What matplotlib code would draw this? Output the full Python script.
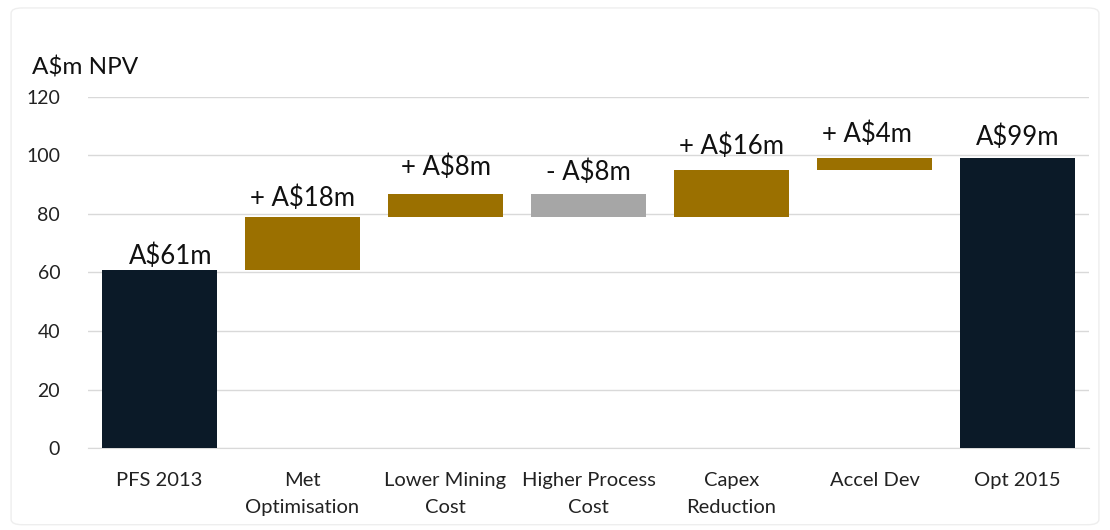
import matplotlib
matplotlib.use("Agg")
import matplotlib.pyplot as plt
from matplotlib.patches import FancyBboxPatch
import numpy as np

categories = ["PFS 2013", "Met\nOptimisation", "Lower Mining\nCost", "Higher Process\nCost",
              "Capex\nReduction", "Accel Dev", "Opt 2015"]
changes = [61, 18, 8, -8, 16, 4, 99]
labels = ["A$61m", "+ A$18m", "+ A$8m", "- A$8m", "+ A$16m", "+ A$4m", "A$99m"]
kinds = ["total", "delta", "delta", "delta", "delta", "delta", "total"]

NAVY = "#0b1a28"
GOLD = "#9b7000"
GREY = "#a6a6a6"

plt.rcParams['font.family'] = ['Lato', 'DejaVu Sans']

fig = plt.figure(figsize=(11.1, 5.3), dpi=100)
ax = fig.add_axes([0.0793, 0.1547, 0.9018, 0.6623])

bottoms, heights, colors = [], [], []
running = 0
for v, k in zip(changes, kinds):
    if k == "total":
        bottoms.append(0); heights.append(v); colors.append(NAVY); running = v
    else:
        if v >= 0:
            bottoms.append(running); heights.append(v); colors.append(GOLD)
        else:
            bottoms.append(running + v); heights.append(-v); colors.append(GREY)
        running += v

x = np.arange(len(categories))
ax.bar(x, heights, bottom=bottoms, width=0.8, color=colors, zorder=3)

# label offsets (points) above bar tops, and small horizontal nudges (data units)
offs = [0.5, 4, 10, 6, 8, 8, 6]
dxs = [0.08, 0, 0, 0, 0, -0.05, 0]
for i, (b, h, lab) in enumerate(zip(bottoms, heights, labels)):
    ax.annotate(lab, (x[i] + dxs[i], b + h), xytext=(0, offs[i]), textcoords="offset points",
                ha="center", va="bottom", fontsize=18.5, color="#111111")

ax.set_xlim(-0.5, len(categories) - 0.5)
ax.set_ylim(0, 120)
ax.set_yticks(range(0, 121, 20))
ax.yaxis.grid(True, color="#d9d9d9", linewidth=1, zorder=0)
ax.set_axisbelow(True)
for s in ["top", "right", "left"]:
    ax.spines[s].set_visible(False)
ax.spines["bottom"].set_color("#d9d9d9")
ax.tick_params(axis="both", length=0, colors="#222222")
ax.tick_params(axis="y", pad=20, labelsize=14)
ax.tick_params(axis="x", pad=17)
ax.set_xticks(x)
ax.set_xticklabels(categories, fontsize=14.5, linespacing=1.75)

fig.text(0.029, 0.872, "A$m NPV", fontsize=17.5, color="#111111", va="center", ha="left")

border = FancyBboxPatch((0.01, 0.01), 0.98, 0.975, boxstyle="round,pad=0,rounding_size=0.01",
                        transform=fig.transFigure, fill=False, edgecolor="#eeeeee", linewidth=1)
fig.patches.append(border)

fig.savefig("out.png", dpi=100)
